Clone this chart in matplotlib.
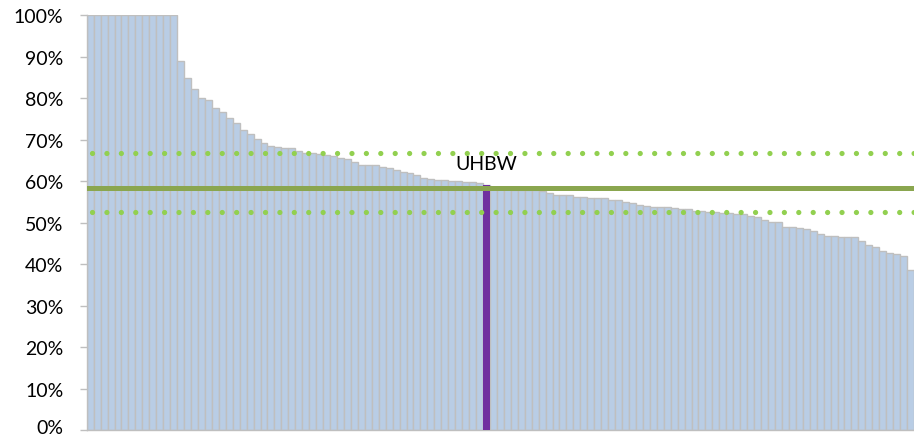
import matplotlib
matplotlib.use("Agg")
import matplotlib.pyplot as plt
import matplotlib.transforms as mtransforms
import numpy as np

# ---- data ----
values = [100.0] * 13 + [
    88.9, 84.9, 82.2, 80.1, 79.7, 77.6, 76.6, 75.3, 74.0, 72.3,
    71.5, 70.2, 69.2, 68.5, 68.2, 68.1, 68.0, 67.2, 66.9, 66.8,
    66.5, 66.3, 66.0, 65.7, 65.4, 64.7, 63.8, 63.8, 63.8, 63.5,
    63.3, 62.8, 62.3, 61.9, 61.5, 60.7, 60.5, 60.2, 60.2, 60.0,
    60.0, 59.9, 59.8, 59.5, 59.0, 58.2, 58.1, 58.1, 58.0, 58.0,
    57.9, 57.8, 57.6, 57.2, 56.8, 56.8, 56.8, 56.3, 56.3, 55.9,
    55.9, 55.9, 55.5, 55.5, 55.1, 54.7, 54.2, 54.1, 53.7, 53.7,
    53.7, 53.6, 53.3, 53.2, 52.9, 52.9, 52.5, 52.5, 52.4, 52.3,
    52.0, 52.0, 51.7, 51.3, 50.7, 50.3, 50.3, 49.1, 48.9, 48.7,
    48.5, 48.1, 47.3, 46.9, 46.8, 46.5, 46.5, 46.5, 45.5, 44.6,
    44.1, 43.3, 42.6, 42.5, 42.1, 38.6,
]
highlight_index = 57
highlight_label = "UHBW"
average_value = 58.3
upper_value = 66.8
lower_value = 52.5
yticks = [0, 10, 20, 30, 40, 50, 60, 70, 80, 90, 100]
ytick_labels = [f"{v}%" for v in yticks]

# ---- style ----
bar_fill = "#B9CDE5"
bar_edge = "#BFBFBF"
highlight_color = "#7030A0"
avg_color = "#8AA64F"
dot_color = "#92D050"
font = ["Lato", "DejaVu Sans"]

fig = plt.figure(figsize=(9.14, 4.39), dpi=100)
ax = fig.add_axes([0.0949, 0.0175, 1.0 - 0.0949, 0.963 - 0.0175])

x = np.arange(len(values))
ax.bar(x, values, width=1.0, color=bar_fill, edgecolor=bar_edge,
       linewidth=1.0, zorder=2)
# highlighted bar
ax.bar([x[highlight_index]], [values[highlight_index]], width=0.92,
       color=highlight_color, edgecolor="none", linewidth=0, zorder=3)

# average line
ax.axhline(average_value, color=avg_color, linewidth=3.6, zorder=4)

# dotted bands
lw_dot = 3.8
for v in (upper_value, lower_value):
    ax.axhline(v, color=dot_color, linewidth=lw_dot,
               linestyle=(1.78, (0.001, 2.73)), dash_capstyle="round", zorder=4)

ax.annotate(highlight_label, xy=(x[highlight_index], values[highlight_index]),
            xytext=(0, 12), textcoords="offset points", ha="center",
            va="baseline", fontsize=14, family=font, color="#000000", zorder=5)

ax.set_xlim(-0.5, len(values) - 0.5)
ax.set_ylim(0, 100)
ax.set_yticks(yticks)
ax.set_yticklabels(ytick_labels, family=font, fontsize=14)
ax.set_xticks([])
ax.tick_params(axis="y", direction="out", length=4.8, width=1.0,
               color="#BFBFBF", pad=12)
for s in ("top", "right"):
    ax.spines[s].set_visible(False)
for s in ("left", "bottom"):
    ax.spines[s].set_color("#BFBFBF")
    ax.spines[s].set_linewidth(1.0)
ax.set_facecolor("white")

# keep the bottom "0%" label inside the figure: baseline-aligned, nudged down
lbl0 = ax.get_yticklabels()[0]
lbl0.set_verticalalignment("baseline")
lbl0.set_transform(lbl0.get_transform() +
                   mtransforms.ScaledTranslation(0, -2.2 / 72, fig.dpi_scale_trans))

fig.savefig("out.png", dpi=100)
